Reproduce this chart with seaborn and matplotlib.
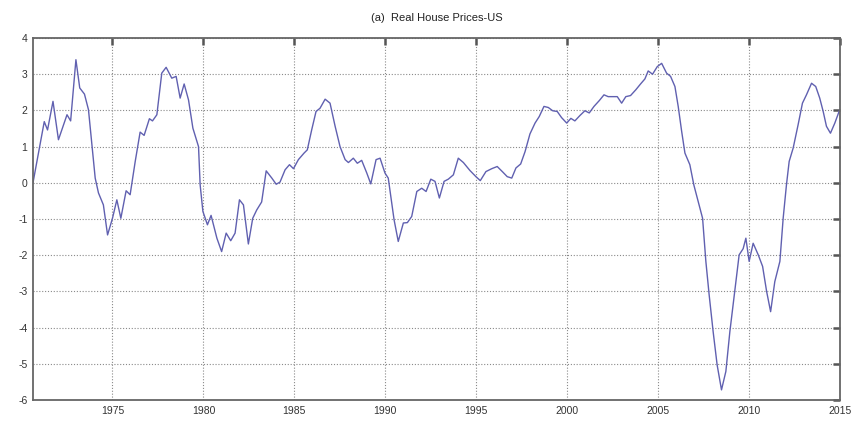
import matplotlib
matplotlib.use("Agg")
import matplotlib.pyplot as plt
import seaborn as sns
import pandas as pd

title = "(a)  Real House Prices-US"

years = [
    1970.63, 1971.25, 1971.43, 1971.73, 1972.03, 1972.50, 1972.70, 1972.99, 1973.20, 1973.46,
    1973.68, 1973.87, 1974.05, 1974.23, 1974.50, 1974.73, 1975.00, 1975.24, 1975.46, 1975.75,
    1975.97, 1976.25, 1976.52, 1976.74, 1977.03, 1977.20, 1977.44, 1977.71, 1977.95, 1978.26,
    1978.50, 1978.72, 1978.94, 1979.18, 1979.42, 1979.73, 1979.82, 1979.97, 1980.22, 1980.42,
    1980.74, 1981.00, 1981.25, 1981.50, 1981.74, 1981.98, 1982.20, 1982.47, 1982.71, 1982.93,
    1983.20, 1983.45, 1983.76, 1984.00, 1984.21, 1984.49, 1984.73, 1984.95, 1985.22, 1985.53,
    1985.71, 1985.95, 1986.19, 1986.41, 1986.69, 1986.96, 1987.24, 1987.51, 1987.79, 1987.97,
    1988.24, 1988.46, 1988.70, 1988.98, 1989.20, 1989.49, 1989.71, 1989.98, 1990.16, 1990.48,
    1990.71, 1990.99, 1991.21, 1991.45, 1991.73, 1992.00, 1992.24, 1992.50, 1992.73, 1992.97,
    1993.23, 1993.46, 1993.74, 1994.01, 1994.29, 1994.65, 1994.98, 1995.22, 1995.53, 1995.85,
    1996.15, 1996.45, 1996.70, 1996.95, 1997.18, 1997.44, 1997.68, 1997.95, 1998.23, 1998.46,
    1998.72, 1998.96, 1999.20, 1999.45, 1999.69, 1999.97, 2000.20, 2000.42, 2000.70, 2000.97,
    2001.21, 2001.47, 2001.76, 2002.02, 2002.25, 2002.53, 2002.75, 2002.99, 2003.22, 2003.48,
    2003.77, 2004.03, 2004.27, 2004.45, 2004.69, 2004.95, 2005.19, 2005.46, 2005.68, 2005.92,
    2006.10, 2006.29, 2006.47, 2006.74, 2006.96, 2007.20, 2007.44, 2007.62, 2007.80, 2008.02,
    2008.24, 2008.48, 2008.72, 2008.94, 2009.21, 2009.45, 2009.67, 2009.82, 2010.00, 2010.22,
    2010.50, 2010.74, 2010.96, 2011.18, 2011.41, 2011.69, 2011.87, 2012.05, 2012.20, 2012.42,
    2012.69, 2012.93, 2013.15, 2013.43, 2013.66, 2013.88, 2014.07, 2014.25, 2014.47, 2014.71,
    2014.98,
]

prices = [
    0.00, 1.69, 1.46, 2.25, 1.19, 1.88, 1.71, 3.40, 2.62, 2.45,
    2.02, 1.05, 0.13, -0.28, -0.61, -1.44, -0.98, -0.47, -0.98, -0.22,
    -0.33, 0.59, 1.40, 1.31, 1.77, 1.71, 1.88, 3.03, 3.19, 2.89,
    2.94, 2.34, 2.73, 2.29, 1.51, 1.00, -0.06, -0.79, -1.16, -0.90,
    -1.53, -1.90, -1.39, -1.60, -1.39, -0.47, -0.61, -1.69, -0.98, -0.75,
    -0.53, 0.33, 0.13, -0.04, 0.02, 0.36, 0.50, 0.39, 0.64, 0.82,
    0.91, 1.46, 1.97, 2.06, 2.31, 2.20, 1.56, 1.00, 0.64, 0.56,
    0.68, 0.54, 0.62, 0.27, -0.03, 0.64, 0.68, 0.27, 0.13, -1.02,
    -1.62, -1.11, -1.10, -0.93, -0.24, -0.15, -0.24, 0.10, 0.04, -0.42,
    0.04, 0.10, 0.22, 0.68, 0.56, 0.34, 0.17, 0.06, 0.31, 0.39,
    0.45, 0.30, 0.17, 0.13, 0.41, 0.52, 0.86, 1.35, 1.65, 1.83,
    2.11, 2.08, 1.99, 1.97, 1.80, 1.65, 1.78, 1.71, 1.86, 1.99,
    1.93, 2.11, 2.27, 2.43, 2.38, 2.38, 2.38, 2.20, 2.38, 2.41,
    2.57, 2.73, 2.87, 3.09, 3.00, 3.21, 3.30, 3.03, 2.94, 2.66,
    2.11, 1.42, 0.82, 0.50, -0.06, -0.52, -0.98, -2.17, -3.09, -4.11,
    -5.03, -5.72, -5.21, -4.11, -3.00, -1.99, -1.82, -1.53, -2.17, -1.67,
    -1.99, -2.31, -3.00, -3.56, -2.73, -2.17, -0.98, -0.06, 0.59, 0.96,
    1.60, 2.20, 2.43, 2.75, 2.66, 2.34, 1.97, 1.56, 1.37, 1.65,
    2.02,
]

x_ticks = [1975, 1980, 1985, 1990, 1995, 2000, 2005, 2010, 2015]
y_ticks = [-6, -5, -4, -3, -2, -1, 0, 1, 2, 3, 4]

sns.set_theme(style="white")
plt.rcParams["font.family"] = ["Liberation Sans", "DejaVu Sans"]

df = pd.DataFrame({"year": years, "price": prices})

fig = plt.figure(figsize=(8.59, 4.25), dpi=100)
ax = fig.add_axes([0.0384, 0.0588, 0.9396, 0.8518])

sns.lineplot(data=df, x="year", y="price", ax=ax, color="#6060b0",
             linewidth=1.0, sort=False, estimator=None)

ax.set_xlim(years[0], 2015)
ax.set_ylim(-6, 4)
ax.set_xticks(x_ticks)
ax.set_yticks(y_ticks)
ax.set_xticklabels([str(t) for t in x_ticks], fontsize=7.5, color="#333333")
ax.set_yticklabels([str(t) for t in y_ticks], fontsize=7.5, color="#333333")
ax.set_xlabel("")
ax.set_ylabel("")

ax.grid(True, linestyle=(0, (1, 1.6)), color="#8a8a8a", linewidth=0.8)
ax.set_axisbelow(True)
ax.tick_params(axis="both", direction="in", length=5, width=1.8, color="#555555",
               top=True, right=True, pad=4)
for sp in ax.spines.values():
    sp.set_visible(True)
    sp.set_color("#666666")
    sp.set_linewidth(1.3)

ax.set_title(title, fontsize=8, color="#222222", pad=12)

fig.savefig("out.png", dpi=100, facecolor="white")
